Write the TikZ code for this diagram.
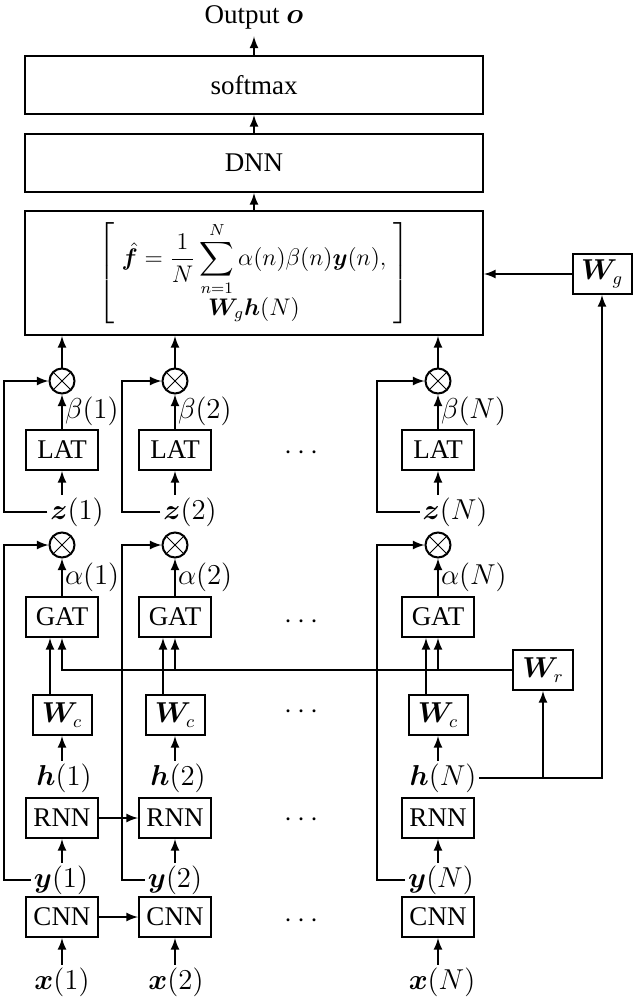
\documentclass[tikz,border=0pt]{standalone}
\usepackage{amsmath}
\usepackage{fontspec}
\setmainfont{Liberation Serif}
\usepackage{bm}
\usepackage{tikz}
\usetikzlibrary{arrows}
\usetikzlibrary{positioning}

\begin{document}
\begin{tikzpicture}[x=0.5pt,y=-0.5pt,>=latex,line width=1pt,
  font=\fontsize{13.5}{16}\selectfont,
  blk/.style={draw,minimum width=36pt,minimum height=20pt,inner sep=0pt},
  wide/.style={draw,minimum width=229pt,inner sep=0pt},
  wbox/.style={draw,minimum width=29.5pt,minimum height=20pt,inner sep=0pt},
  var/.style={inner sep=1pt},
  prod/.style={draw,circle,minimum size=12.5pt,inner sep=0pt,
    path picture={\draw[line width=0.4pt]
      (path picture bounding box.north west) -- (path picture bounding box.south east)
      (path picture bounding box.north east) -- (path picture bounding box.south west);}}]
  \useasboundingbox (0,0) rectangle (633,997);

  % top of the network
  \node[] (out) at (254,17) {Output $\bm{o}$};
  \node[wide,minimum height=29pt] (smax) at (254,85) {softmax};
  \node[wide,minimum height=29pt] (dnn) at (254,163) {DNN};
  \node[wide,minimum height=62pt,font=\fontsize{12}{14}\selectfont] (fbox) at (254,273)
    {$\left[\;\begin{array}{@{}c@{}}\displaystyle\hat{\bm{f}}=\frac{1}{N}\sum_{n=1}^{N}\alpha(n)\beta(n)\bm{y}(n),\\ \displaystyle\bm{W}_g\bm{h}(N)\end{array}\;\right]$};
  \node[wbox] (wg) at (602,274) {$\bm{W}_g$};
  \node[wbox,minimum width=30pt] (wr) at (543,670) {$\bm{W}_r$};

  \coordinate (r1) at (4,0);
  \coordinate (r2) at (122,0);
  \coordinate (rN) at (377,0);

  % column 1
  \node[prod] (otb1) at (62,381) {};
  \node[blk] (lat1) at (62,450) {LAT};
  \node[var] (z1) at (77,512) {$\bm{z}(1)$};
  \node[prod] (ota1) at (62,545) {};
  \node[blk] (gat1) at (62,617) {GAT};
  \node[wbox] (wc1) at (62,715) {$\bm{W}_c$};
  \node[var] (h1) at (64,778) {$\bm{h}(1)$};
  \node[blk] (rnn1) at (62,818) {RNN};
  \node[var] (y1) at (61,880) {$\bm{y}(1)$};
  \node[blk] (cnn1) at (62,917) {CNN};
  \node[var] (x1) at (62,982) {$\bm{x}(1)$};

  % column 2
  \node[prod] (otb2) at (175,381) {};
  \node[blk] (lat2) at (175,450) {LAT};
  \node[var] (z2) at (190,512) {$\bm{z}(2)$};
  \node[prod] (ota2) at (175,545) {};
  \node[blk] (gat2) at (175,617) {GAT};
  \node[wbox] (wc2) at (175,715) {$\bm{W}_c$};
  \node[var] (h2) at (178,778) {$\bm{h}(2)$};
  \node[blk] (rnn2) at (175,818) {RNN};
  \node[var] (y2) at (175,880) {$\bm{y}(2)$};
  \node[blk] (cnn2) at (175,917) {CNN};
  \node[var] (x2) at (176,982) {$\bm{x}(2)$};

  % column N
  \node[prod] (otbN) at (438,381) {};
  \node[blk] (latN) at (438,450) {LAT};
  \node[var] (zN) at (455,512) {$\bm{z}(N)$};
  \node[prod] (otaN) at (438,545) {};
  \node[blk] (gatN) at (438,617) {GAT};
  \node[wbox] (wcN) at (438,715) {$\bm{W}_c$};
  \node[var] (hN) at (443,778) {$\bm{h}(N)$};
  \node[blk] (rnnN) at (438,818) {RNN};
  \node[var] (yN) at (441,880) {$\bm{y}(N)$};
  \node[blk] (cnnN) at (438,917) {CNN};
  \node[var] (xN) at (442,982) {$\bm{x}(N)$};

  % dots between columns
  \node[] (dlat) at (304,453) {$\cdots$};
  \node[] (dgat) at (304,622) {$\cdots$};
  \node[] (dwc) at (304,712) {$\cdots$};
  \node[] (drnn) at (304,820) {$\cdots$};
  \node[] (dcnn) at (304,921) {$\cdots$};

  % connectors on top
  \draw[->] (smax.north) -- (out.south);
  \draw[->] (dnn.north) -- (smax.south);
  \draw[->] (fbox.north) -- (dnn.south);
  \draw[->] (wg.west) -- (fbox.east |- wg.west);

  % column 1 connectors
  \draw[->] (cnn1.south |- x1.north) -- (cnn1.south);
  \draw[->] (rnn1.south |- y1.north) -- (rnn1.south);
  \draw[->] (wc1.south |- h1.north) -- (wc1.south);
  \draw[->] ([xshift=-6pt]wc1.north) -- ([xshift=-6pt]gat1.south);
  \draw[->] (gat1.north) -- node[var,right] (al1) {$\alpha(1)$} (ota1.south);
  \draw[->] (y1.west) -- (y1.west -| r1) |- (ota1.west);
  \draw[->] (lat1.south |- z1.north) -- (lat1.south);
  \draw[->] (lat1.north) -- node[var,right] (be1) {$\beta(1)$} (otb1.south);
  \draw[->] (z1.west) -- (z1.west -| r1) |- (otb1.west);
  \draw[->] (otb1.north) -- (otb1.north |- fbox.south);

  % column 2 connectors
  \draw[->] (cnn2.south |- x2.north) -- (cnn2.south);
  \draw[->] (rnn2.south |- y2.north) -- (rnn2.south);
  \draw[->] (wc2.south |- h2.north) -- (wc2.south);
  \draw[->] ([xshift=-6pt]wc2.north) -- ([xshift=-6pt]gat2.south);
  \draw[->] (gat2.north) -- node[var,right] (al2) {$\alpha(2)$} (ota2.south);
  \draw[->] (y2.west) -- (y2.west -| r2) |- (ota2.west);
  \draw[->] (lat2.south |- z2.north) -- (lat2.south);
  \draw[->] (lat2.north) -- node[var,right] (be2) {$\beta(2)$} (otb2.south);
  \draw[->] (z2.west) -- (z2.west -| r2) |- (otb2.west);
  \draw[->] (otb2.north) -- (otb2.north |- fbox.south);

  % column N connectors
  \draw[->] (cnnN.south |- xN.north) -- (cnnN.south);
  \draw[->] (rnnN.south |- yN.north) -- (rnnN.south);
  \draw[->] (wcN.south |- hN.north) -- (wcN.south);
  \draw[->] ([xshift=-6pt]wcN.north) -- ([xshift=-6pt]gatN.south);
  \draw[->] (gatN.north) -- node[var,right] (alN) {$\alpha(N)$} (otaN.south);
  \draw[->] (yN.west) -- (yN.west -| rN) |- (otaN.west);
  \draw[->] (latN.south |- zN.north) -- (latN.south);
  \draw[->] (latN.north) -- node[var,right] (beN) {$\beta(N)$} (otbN.south);
  \draw[->] (zN.west) -- (zN.west -| rN) |- (otbN.west);
  \draw[->] (otbN.north) -- (otbN.north |- fbox.south);

  % recurrent links
  \draw[->] (rnn1.east) -- (rnn2.west);
  \draw[->] (cnn1.east) -- (cnn2.west);

  % W_r and W_g paths
  \draw[->] (wr.west) -| (gat1.south);
  \draw[->] (gat2.south |- wr.west) -- (gat2.south);
  \draw[->] (gatN.south |- wr.west) -- (gatN.south);
  \draw[->] (hN.east) -| (wr.south);
  \draw[->] (hN.east) -| (wg.south);
\end{tikzpicture}
\end{document}
